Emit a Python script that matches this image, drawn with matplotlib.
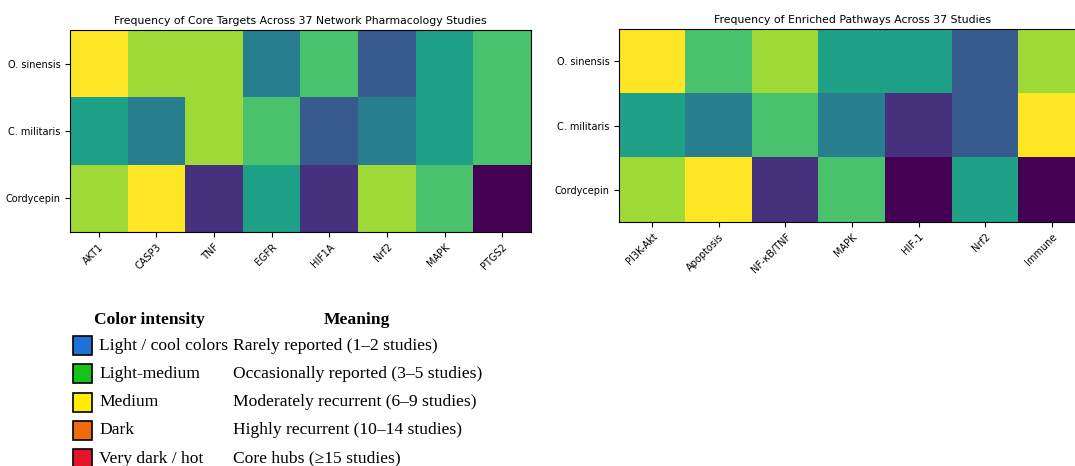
import matplotlib.pyplot as plt
from matplotlib.patches import Rectangle

compounds = ["O. sinensis", "C. militaris", "Cordycepin"]

targets = ["AKT1", "CASP3", "TNF", "EGFR", "HIF1A", "Nrf2", "MAPK", "PTGS2"]
target_freq = [
    [7, 6, 6, 3, 5, 2, 4, 5],
    [4, 3, 6, 5, 2, 3, 4, 5],
    [6, 7, 1, 4, 1, 6, 5, 0],
]

pathways = ["PI3K-Akt", "Apoptosis", "NF-κB/TNF", "MAPK", "HIF-1", "Nrf2", "Immune"]
pathway_freq = [
    [7, 5, 6, 4, 4, 2, 6],
    [4, 3, 5, 3, 1, 2, 7],
    [6, 7, 1, 5, 0, 4, 0],
]

legend_colors = ["#1f72d6", "#19c219", "#ffee00", "#f26a10", "#e3142c"]
legend_intensity = ["Light / cool colors", "Light-medium", "Medium", "Dark", "Very dark / hot"]
legend_meaning = [
    "Rarely reported (1\u20132 studies)",
    "Occasionally reported (3\u20135 studies)",
    "Moderately recurrent (6\u20139 studies)",
    "Highly recurrent (10\u201314 studies)",
    "Core hubs (\u226515 studies)",
]

W, H = 1075, 466
fig = plt.figure(figsize=(W / 100, H / 100), dpi=100)


def px_axes(x0, y0, x1, y1):
    # pixel box (top-left origin) -> figure axes
    return fig.add_axes([x0 / W, 1 - y1 / H, (x1 - x0) / W, (y1 - y0) / H])


def heatmap(ax, data, xlabels, title):
    ax.imshow(data, cmap="viridis", aspect="auto")
    ax.set_xticks(range(len(xlabels)))
    ax.set_xticklabels(xlabels, rotation=45, ha="right", rotation_mode="anchor", fontsize=7)
    ax.set_yticks(range(len(compounds)))
    ax.set_yticklabels(compounds, fontsize=7)
    ax.set_title(title, fontsize=7.8, pad=4)


ax1 = px_axes(70, 30, 531, 232)
heatmap(ax1, target_freq, targets, "Frequency of Core Targets Across 37 Network Pharmacology Studies")

ax2 = px_axes(619, 29, 1085, 222)
heatmap(ax2, pathway_freq, pathways, "Frequency of Enriched Pathways Across 37 Studies")

# Legend table
serif = ["Liberation Serif", "DejaVu Serif"]
fs = 12.6
fig.text(149 / W, 1 - 320 / H, "Color intensity", family=serif, fontsize=fs,
         fontweight="bold", ha="center", va="center")
fig.text(357 / W, 1 - 320 / H, "Meaning", family=serif, fontsize=fs,
         fontweight="bold", ha="center", va="center")

for i, (c, lab, mean) in enumerate(zip(legend_colors, legend_intensity, legend_meaning)):
    yc = 345.5 + i * 28.3
    fig.patches.append(Rectangle((73 / W, 1 - (yc + 9.5) / H), 19 / W, 19 / H,
                                 transform=fig.transFigure, facecolor=c,
                                 edgecolor="black", linewidth=1.2))
    fig.text(99 / W, 1 - yc / H, lab, family=serif, fontsize=fs, ha="left", va="center")
    fig.text(233 / W, 1 - yc / H, mean, family=serif, fontsize=fs, ha="left", va="center")

fig.savefig("out.png", dpi=100)
